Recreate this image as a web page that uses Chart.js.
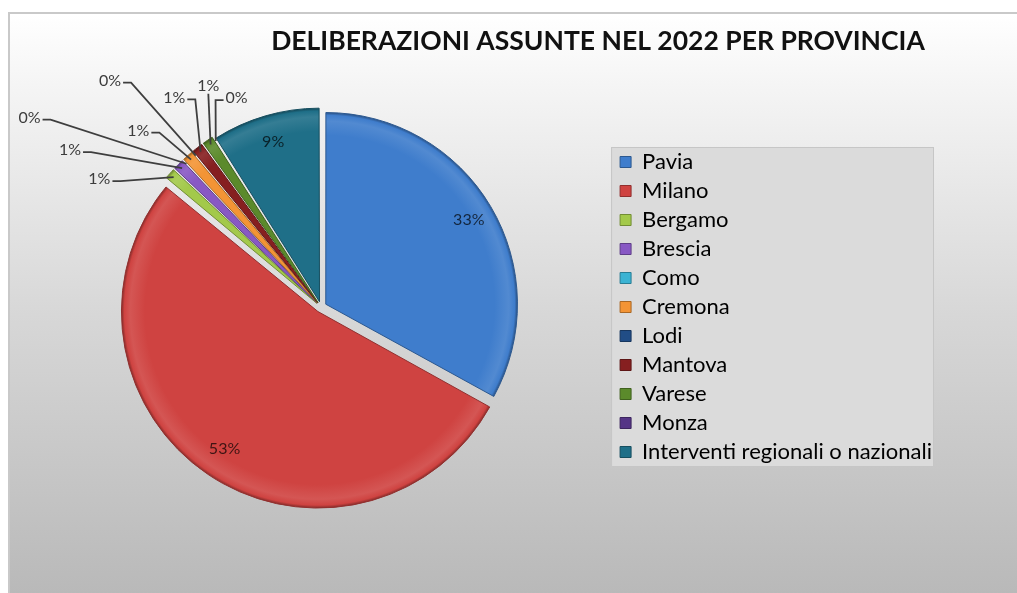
<!DOCTYPE html>
<html>
<head>
<meta charset="utf-8">
<title>Deliberazioni 2022</title>
<script src="https://cdn.jsdelivr.net/npm/chart.js@4.4.0/dist/chart.umd.min.js"></script>
<style>
  html, body { margin: 0; padding: 0; background: #fff; }
  body { width: 1017px; height: 593px; position: relative; overflow: hidden; }
  #cornice {
    position: absolute; left: 8px; top: 12px; right: 0; bottom: 0;
    border-top: 2px solid #c9c9c9; border-left: 2px solid #c9c9c9;
    background: linear-gradient(to bottom, #ffffff 0%, #f5f5f5 12%, #d7d7d7 52%, #b9b9b9 100%);
  }
  #grafico { position: absolute; left: 0; top: 0; }
</style>
</head>
<body>
<div id="cornice"></div>
<canvas id="grafico" width="1017" height="593"></canvas>
<script>
// Dati: quote percentuali delle deliberazioni per provincia
const province = ['Pavia', 'Milano', 'Bergamo', 'Brescia', 'Como', 'Cremona', 'Lodi',
  'Mantova', 'Varese', 'Monza', 'Interventi regionali o nazionali'];
const quote = [33, 53, 1, 1, 0, 1, 0, 1, 1, 0, 9];
const colori = ['#3f7dcc', '#cf4341', '#a3c94a', '#8858c4', '#3bb3d3', '#f39435',
  '#214d86', '#861f20', '#5b8a2b', '#553586', '#1f6f88'];
const titolo = 'DELIBERAZIONI ASSUNTE NEL 2022 PER PROVINCIA';

const RAGGIO = 191;   // raggio della torta
const STACCO = 22;    // offset delle fette (Chart.js sposta di offset/4)

// posizione delle etichette esterne: [gradi dall'alto in senso orario, distanza in raggi]
const richiami = {
  'Bergamo': [300, 1.34],
  'Brescia': [302, 1.55],
  'Como':    [303, 1.82],
  'Cremona': [314, 1.33],
  'Lodi':    [317, 1.62],
  'Mantova': [325, 1.34],
  'Varese':  [333, 1.30],
  'Monza':   [338, 1.18]
};

const totale = quote.reduce((s, v) => s + v, 0);

function mescola(hex, verso, t) {
  const n = parseInt(hex.slice(1), 16);
  const m = c => Math.round(c + (verso - c) * t);
  return `rgb(${m((n >> 16) & 255)},${m((n >> 8) & 255)},${m(n & 255)})`;
}
const schiarisci = (hex, t) => mescola(hex, 255, t);
const scurisci = (hex, t) => mescola(hex, 0, t);

// riempimento con bordo in rilievo
function riempimento(context) {
  const i = context.dataIndex;
  const base = colori[i];
  const area = context.chart.chartArea;
  if (!area) return base;
  const cx = (area.left + area.right) / 2;
  const cy = (area.top + area.bottom) / 2;
  const giro = quote[i] / totale * Math.PI * 2;
  const fix = 1 - Math.sin(Math.min(Math.PI, giro));
  const r = RAGGIO + STACCO / 4 * fix;
  const g = context.chart.ctx.createRadialGradient(cx, cy, 0, cx, cy, r);
  g.addColorStop(0, base);
  g.addColorStop(0.88, base);
  g.addColorStop(0.955, schiarisci(base, 0.1));
  g.addColorStop(0.985, base);
  g.addColorStop(1, scurisci(base, 0.35));
  return g;
}

const decorazioni = {
  id: 'decorazioni',
  beforeDraw(chart) {
    // riquadro della legenda
    const hb = chart.legend && chart.legend.legendHitBoxes;
    if (!hb || !hb.length) return;
    const ctx = chart.ctx;
    const x0 = Math.min(...hb.map(h => h.left)) - 9;
    const x1 = Math.max(...hb.map(h => h.left + h.width)) + 2;
    const y0 = hb[0].top - 4;
    const ult = hb[hb.length - 1];
    const y1 = ult.top + ult.height + 4;
    ctx.save();
    ctx.fillStyle = '#dbdbdb';
    ctx.fillRect(x0, y0, x1 - x0, y1 - y0);
    ctx.strokeStyle = '#c6c6c6';
    ctx.lineWidth = 1;
    ctx.strokeRect(x0 + 0.5, y0 + 0.5, x1 - x0 - 1, y1 - y0 - 1);
    ctx.restore();
  },
  afterDatasetsDraw(chart) {
    const ctx = chart.ctx;
    const meta = chart.getDatasetMeta(0);
    const spost = STACCO / 4;
    ctx.save();
    ctx.textAlign = 'center';
    ctx.textBaseline = 'middle';
    meta.data.forEach((arc, i) => {
      const quota = quote[i] / totale * 100;
      const testo = Math.round(quota) + '%';
      const mid = (arc.startAngle + arc.endAngle) / 2;
      const ux = Math.cos(mid), uy = Math.sin(mid);
      if (quota >= 5) {
        const d = spost + arc.outerRadius * 0.87;
        ctx.font = '16px Lato';
        ctx.fillStyle = 'rgba(0,0,0,0.7)';
        ctx.fillText(testo, arc.x + ux * d, arc.y + uy * d);
        return;
      }
      const [gradi, fattore] = richiami[province[i]];
      const a = (gradi - 90) * Math.PI / 180;
      const lx = arc.x + Math.cos(a) * RAGGIO * fattore;
      const ly = arc.y + Math.sin(a) * RAGGIO * fattore;
      const ax = arc.x + ux * (spost + arc.outerRadius);
      const ay = arc.y + uy * (spost + arc.outerRadius);
      ctx.font = '16px Lato';
      const w = ctx.measureText(testo).width;
      // linea di richiamo
      ctx.strokeStyle = '#3e3e3e';
      ctx.lineWidth = 1.8;
      ctx.beginPath();
      if (Math.abs(ax - lx) < w / 2 + 2) {
        ctx.moveTo(lx, ly + 8);
        ctx.lineTo(ax, ay);
      } else {
        const lato = ax > lx ? 1 : -1;
        const xs = lx + lato * (w / 2 + 2);
        ctx.moveTo(xs, ly + 2);
        ctx.lineTo(xs + lato * 8, ly + 2);
        ctx.lineTo(ax, ay);
      }
      ctx.stroke();
      ctx.fillStyle = '#3c3c3c';
      ctx.fillText(testo, lx, ly);
    });
    ctx.restore();
  },
  afterDraw(chart) {
    const ctx = chart.ctx;
    ctx.save();
    ctx.font = 'bold 26.5px Lato';
    ctx.fillStyle = '#111';
    ctx.textAlign = 'center';
    ctx.textBaseline = 'alphabetic';
    ctx.fillText(titolo, 598, 50);
    ctx.restore();
  }
};

new Chart(document.getElementById('grafico'), {
  type: 'pie',
  data: {
    labels: province,
    datasets: [{
      data: quote,
      backgroundColor: riempimento,
      borderColor: colori.map(c => scurisci(c, 0.3)),
      borderWidth: 1,
      offset: STACCO,
      hoverOffset: 0,
      radius: RAGGIO
    }]
  },
  options: {
    responsive: false,
    animation: false,
    events: [],
    layout: { padding: { left: 29, right: 75, top: 70, bottom: 49 } },
    plugins: {
      title: { display: false },
      tooltip: { enabled: false },
      legend: {
        position: 'right',
        labels: {
          boxWidth: 11,
          boxHeight: 11,
          padding: 7,
          color: '#111',
          font: { family: 'Lato', size: 22 },
          generateLabels: () => province.map((nome, i) => ({
            text: nome,
            fillStyle: colori[i],
            strokeStyle: scurisci(colori[i], 0.3),
            lineWidth: 1,
            hidden: false,
            index: i
          }))
        }
      }
    }
  },
  plugins: [decorazioni]
});
</script>
</body>
</html>
